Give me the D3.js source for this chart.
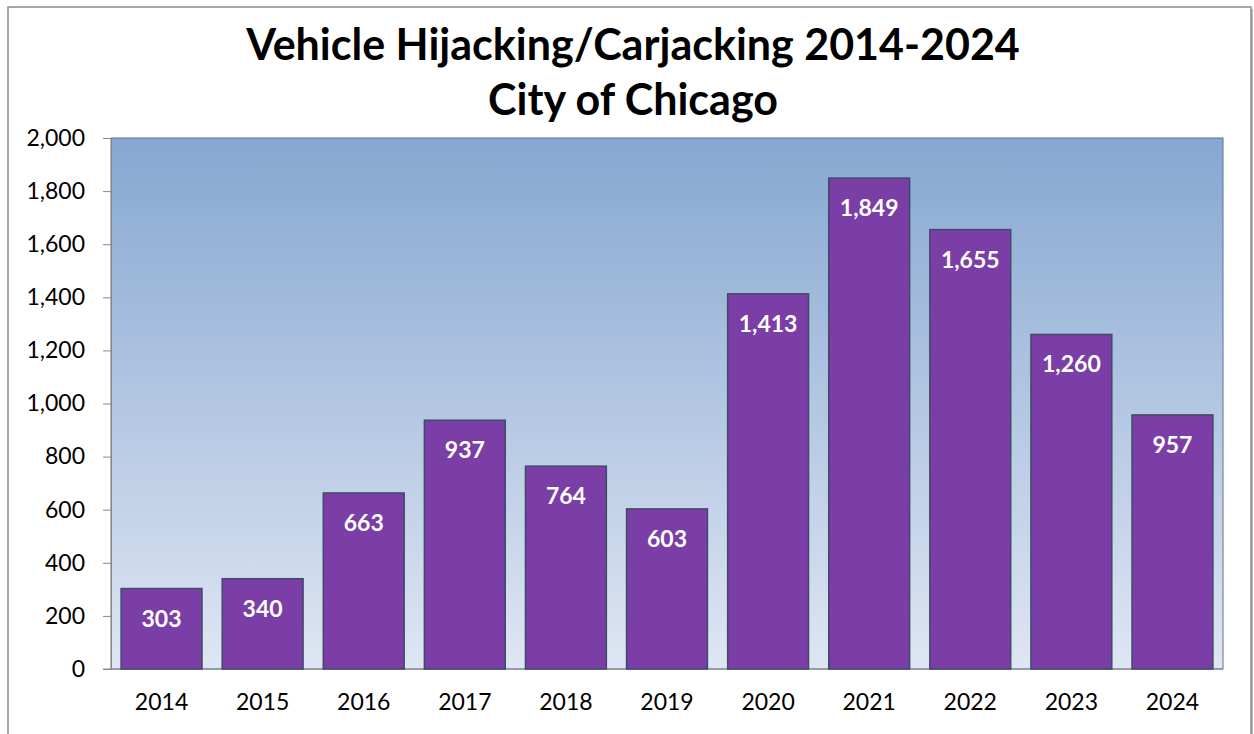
<!DOCTYPE html>
<html>
<head>
<meta charset="utf-8">
<script src="https://cdn.jsdelivr.net/npm/d3@7"></script>
<style>
  body { margin: 0; background: #fff; }
  text { font-family: Lato, "Open Sans", sans-serif; }
</style>
</head>
<body>
<svg width="1254" height="734"></svg>
<script>
var years = ["2014","2015","2016","2017","2018","2019","2020","2021","2022","2023","2024"];
var counts = [303, 340, 663, 937, 764, 603, 1413, 1849, 1655, 1260, 957];
var yTicks = [0, 200, 400, 600, 800, 1000, 1200, 1400, 1600, 1800, 2000];
var titleLines = ["Vehicle Hijacking/Carjacking 2014-2024", "City of Chicago"];

var svg = d3.select("svg");
var plotL = 111, plotR = 1223, plotT = 138, plotB = 669;

// outer frame
svg.append("rect").attr("x", 10).attr("y", 9).attr("width", 1243).attr("height", 740)
  .attr("fill", "#bbb");
svg.append("rect").attr("x", 8).attr("y", 7).attr("width", 1243).attr("height", 740)
  .attr("fill", "#fff").attr("stroke", "#8c8c8c").attr("stroke-width", 1.5);

var grad = svg.append("defs").append("linearGradient").attr("id", "bg")
  .attr("x1", 0).attr("y1", 0).attr("x2", 0).attr("y2", 1);
grad.append("stop").attr("offset", "0%").attr("stop-color", "#86a7d1");
grad.append("stop").attr("offset", "100%").attr("stop-color", "#dfe6f3");

svg.append("rect").attr("x", plotL).attr("y", plotT)
  .attr("width", plotR - plotL).attr("height", plotB - plotT)
  .attr("fill", "url(#bg)").attr("stroke", "#5f7393").attr("stroke-width", 1);

var x = d3.scaleBand().domain(years).range([plotL, plotR]).paddingInner(0.2).paddingOuter(0.1);
var y = d3.scaleLinear().domain([0, 2000]).range([plotB, plotT]);

var yAxis = svg.append("g").attr("transform", "translate(" + plotL + ",0)")
  .call(d3.axisLeft(y).tickValues(yTicks).tickSize(8).tickPadding(18).tickFormat(d3.format(",")));
yAxis.select(".domain").attr("stroke", "#888");
yAxis.selectAll(".tick line").attr("stroke", "#888");
yAxis.selectAll("text").attr("font-size", 23).attr("fill", "#000")
  .style("font-family", "Lato, sans-serif");

var xAxis = svg.append("g").attr("transform", "translate(0," + plotB + ")")
  .call(d3.axisBottom(x).tickSize(0).tickPadding(25));
xAxis.select(".domain").attr("stroke", "#888").attr("d", "M" + (plotL - 8) + ",0H" + plotR);
xAxis.selectAll("text").attr("font-size", 23).attr("fill", "#000")
  .style("font-family", "Lato, sans-serif");

svg.selectAll("rect.bar").data(counts).enter().append("rect")
  .attr("class", "bar")
  .attr("x", function(d, i){ return x(years[i]); })
  .attr("y", function(d){ return y(d); })
  .attr("width", x.bandwidth())
  .attr("height", function(d){ return plotB - y(d); })
  .attr("fill", "#7a3ea6")
  .attr("stroke", "#3f4a6b").attr("stroke-width", 1.5);

svg.selectAll("text.lbl").data(counts).enter().append("text")
  .attr("class", "lbl")
  .attr("x", function(d, i){ return x(years[i]) + x.bandwidth() / 2; })
  .attr("y", function(d){ return y(d) + 38; })
  .attr("text-anchor", "middle")
  .attr("font-size", 23).attr("font-weight", "bold").attr("fill", "#fff")
  .text(d3.format(","));

svg.selectAll("text.title").data(titleLines).enter().append("text")
  .attr("class", "title")
  .attr("x", 633)
  .attr("y", function(d, i){ return 60 + i * 55; })
  .attr("text-anchor", "middle")
  .attr("font-size", 43).attr("font-weight", "bold").attr("fill", "#000")
  .text(function(d){ return d; });
</script>
</body>
</html>
